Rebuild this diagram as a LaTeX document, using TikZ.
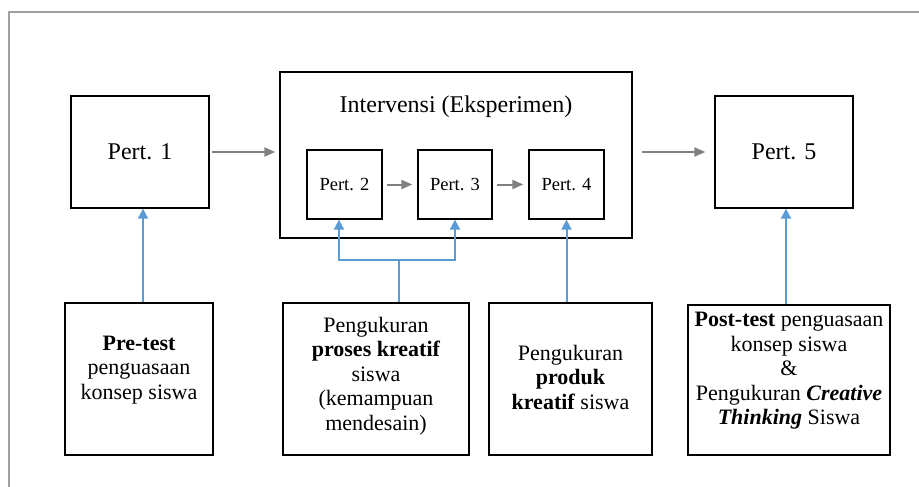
\documentclass[tikz,border=0pt]{standalone}
\usepackage{fontspec}
\setmainfont{Liberation Serif}
\definecolor{linkblue}{RGB}{91,155,213}
\definecolor{arrowgray}{RGB}{128,128,128}
\definecolor{framegray}{RGB}{160,160,160}
\usetikzlibrary{calc, positioning, arrows.meta}
\tikzset{
  meetbox/.style={draw=black, line width=1.3pt, minimum width=138pt, minimum height=112pt,
    inner sep=0pt, font=\fontsize{24}{28}\selectfont},
  subbox/.style={draw=black, line width=1.3pt, minimum width=75pt, minimum height=69pt,
    inner sep=0pt, font=\fontsize{18.5}{22}\selectfont},
  measurebox/.style={draw=black, line width=1.3pt, minimum height=152pt, inner sep=0pt},
  measuretext/.style={font=\fontsize{22}{24.5}\selectfont, align=center, inner sep=0pt},
  flowarrow/.style={arrowgray, line width=2pt, -{Triangle[length=11pt, width=9pt]}},
  feedarrow/.style={linkblue, line width=2pt, -{Triangle[length=10pt, width=10pt]}},
  feedline/.style={linkblue, line width=2pt},
}

\begin{document}
\begin{tikzpicture}[x=1pt, y=-1pt]
  \useasboundingbox (0,0) rectangle (919,487);
  \draw[framegray, line width=1.2pt] (9,12) rectangle (940,510);

  % top row
  \node[meetbox] (p1) at (140,152) {Pert. 1};
  \node[draw=black, line width=1.3pt, minimum width=352pt, minimum height=166pt] (interv) at (456,155) {};
  \node[font=\fontsize{24}{28}\selectfont] (intervtitle) at (456,107) {Intervensi (Eksperimen)};
  \node[subbox] (p2) at (344.5,184.5) {Pert. 2};
  \node[subbox, minimum width=74pt] (p3) at (455,184.5) {Pert. 3};
  \node[subbox] (p4) at (566.5,184.5) {Pert. 4};
  \node[meetbox] (p5) at (784,152) {Pert. 5};

  % bottom row
  \node[measurebox, minimum width=148pt] (pre) at (139,379) {};
  \node[measuretext] (pretxt) at (139,370) {\textbf{Pre-test}\\penguasaan\\konsep siswa};

  \node[measurebox, minimum width=186pt] (proses) at (376,379) {};
  \node[measuretext] (prosestxt) at (376,376) {Pengukuran\\\textbf{proses kreatif}\\siswa\\(kemampuan\\mendesain)};

  \node[measurebox, minimum width=163pt] (produk) at (570.5,379) {};
  \node[measuretext] (produktxt) at (570.5,377) {Pengukuran\\\textbf{produk}\\\textbf{kreatif} siswa};

  \node[measurebox, minimum width=202pt, minimum height=150pt] (post) at (789,380) {};
  \node[measuretext] (posttxt) at (789,371) {\textbf{Post-test} penguasaan\\konsep siswa\\\&\\Pengukuran \textbf{\textit{Creative}}\\\textbf{\textit{Thinking}} Siswa};

  % flow
  \draw[flowarrow, shorten <=2pt, shorten >=4pt] (p1.east) -- (p1.east -| interv.west);
  \draw[flowarrow, shorten <=9pt, shorten >=9pt] (p5.west -| interv.east) -- (p5.west);
  \draw[flowarrow, shorten <=4pt, shorten >=5pt] (p2.east) -- (p3.west);
  \draw[flowarrow, shorten <=4pt, shorten >=5pt] (p3.east) -- (p4.west);

  % measurements
  \coordinate (split) at (399,260);
  \draw[feedarrow] ([xshift=4pt]pre.north) -- ([xshift=4pt]pre.north |- p1.south);
  \draw[feedline] ([xshift=23pt]proses.north) -- (split);
  \draw[feedarrow] (split) -| ([xshift=-5.5pt]p2.south);
  \draw[feedarrow] (split) -| (p3.south);
  \draw[feedarrow] (p4.south |- produk.north) -- (p4.south);
  \draw[feedarrow] ([xshift=2pt]p5.south |- post.north) -- ([xshift=2pt]p5.south);
\end{tikzpicture}
\end{document}
